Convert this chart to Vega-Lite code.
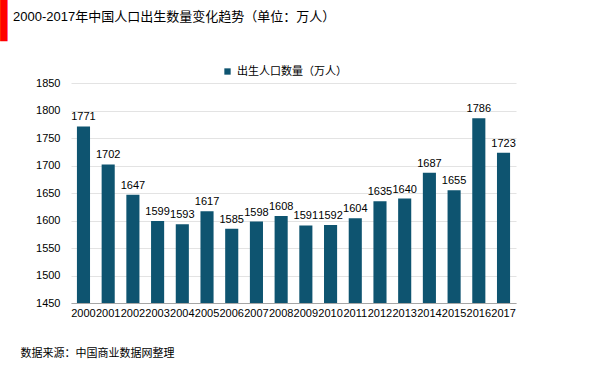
{
  "$schema": "https://vega.github.io/schema/vega-lite/v6.json",
  "width": 445,
  "height": 220,
  "autosize": {"type": "none"},
  "padding": {"left": 71, "top": 83, "right": 84, "bottom": 72},
  "background": "white",
  "title": {
    "text": "2000-2017年中国人口出生数量变化趋势（单位：万人）",
    "anchor": "start",
    "frame": "group",
    "dx": -58,
    "dy": 27,
    "fontSize": 13,
    "fontWeight": "normal",
    "font": "Liberation Sans, Noto Sans CJK SC",
    "color": "#000000"
  },
  "config": {
    "view": {"stroke": null},
    "font": "Liberation Sans, Noto Sans CJK SC"
  },
  "data": {
    "values": [
      {"year": "2000", "births": 1771, "series": "出生人口数量（万人）"},
      {"year": "2001", "births": 1702, "series": "出生人口数量（万人）"},
      {"year": "2002", "births": 1647, "series": "出生人口数量（万人）"},
      {"year": "2003", "births": 1599, "series": "出生人口数量（万人）"},
      {"year": "2004", "births": 1593, "series": "出生人口数量（万人）"},
      {"year": "2005", "births": 1617, "series": "出生人口数量（万人）"},
      {"year": "2006", "births": 1585, "series": "出生人口数量（万人）"},
      {"year": "2007", "births": 1598, "series": "出生人口数量（万人）"},
      {"year": "2008", "births": 1608, "series": "出生人口数量（万人）"},
      {"year": "2009", "births": 1591, "series": "出生人口数量（万人）"},
      {"year": "2010", "births": 1592, "series": "出生人口数量（万人）"},
      {"year": "2011", "births": 1604, "series": "出生人口数量（万人）"},
      {"year": "2012", "births": 1635, "series": "出生人口数量（万人）"},
      {"year": "2013", "births": 1640, "series": "出生人口数量（万人）"},
      {"year": "2014", "births": 1687, "series": "出生人口数量（万人）"},
      {"year": "2015", "births": 1655, "series": "出生人口数量（万人）"},
      {"year": "2016", "births": 1786, "series": "出生人口数量（万人）"},
      {"year": "2017", "births": 1723, "series": "出生人口数量（万人）"}
    ]
  },
  "encoding": {
    "x": {
      "field": "year",
      "type": "ordinal",
      "scale": {"paddingInner": 0.47, "paddingOuter": 0.24},
      "axis": {
        "title": "数据来源：中国商业数据网整理",
        "titleAnchor": "start",
        "titleAlign": "left",
        "titleX": -51,
        "titleY": 50,
        "titleBaseline": "middle",
        "titleFontSize": 11,
        "titleFontWeight": "normal",
        "titleColor": "#000000",
        "labelAngle": 0,
        "labelOverlap": false,
        "labelFontSize": 11,
        "labelColor": "#000000",
        "labelPadding": 4,
        "ticks": false,
        "domainColor": "#a6a6a6",
        "domainWidth": 1,
        "zindex": 1
      }
    },
    "y": {
      "field": "births",
      "type": "quantitative",
      "scale": {"domain": [1450, 1850], "nice": false, "zero": false},
      "axis": {
        "title": "▎",
        "titleColor": "#ff0000",
        "titleFont": "DejaVu Sans",
        "titleFontSize": 38,
        "titleFontWeight": "normal",
        "titleAngle": 0,
        "titleAlign": "left",
        "titleBaseline": "top",
        "titleX": -71,
        "titleY": -82,
        "values": [1450, 1500, 1550, 1600, 1650, 1700, 1750, 1800, 1850],
        "format": "d",
        "labelOverlap": false,
        "labelFontSize": 11,
        "labelColor": "#000000",
        "labelPadding": 11,
        "ticks": false,
        "domain": false,
        "gridColor": "#e3e3e3",
        "gridWidth": 1
      }
    }
  },
  "layer": [
    {
      "mark": {"type": "bar", "clip": true},
      "encoding": {
        "color": {
          "field": "series",
          "type": "nominal",
          "scale": {"range": ["#0e5470"]},
          "legend": {
            "title": null,
            "orient": "none",
            "legendX": 151,
            "legendY": -17,
            "symbolType": "square",
            "symbolSize": 40,
            "labelFontSize": 11,
            "labelColor": "#000000",
            "labelFont": "Noto Sans CJK SC"
          }
        }
      }
    },
    {
      "mark": {"type": "text", "baseline": "bottom", "dy": -4, "fontSize": 11, "color": "#000000"},
      "encoding": {
        "text": {"field": "births", "type": "quantitative", "format": "d"}
      }
    }
  ]
}
